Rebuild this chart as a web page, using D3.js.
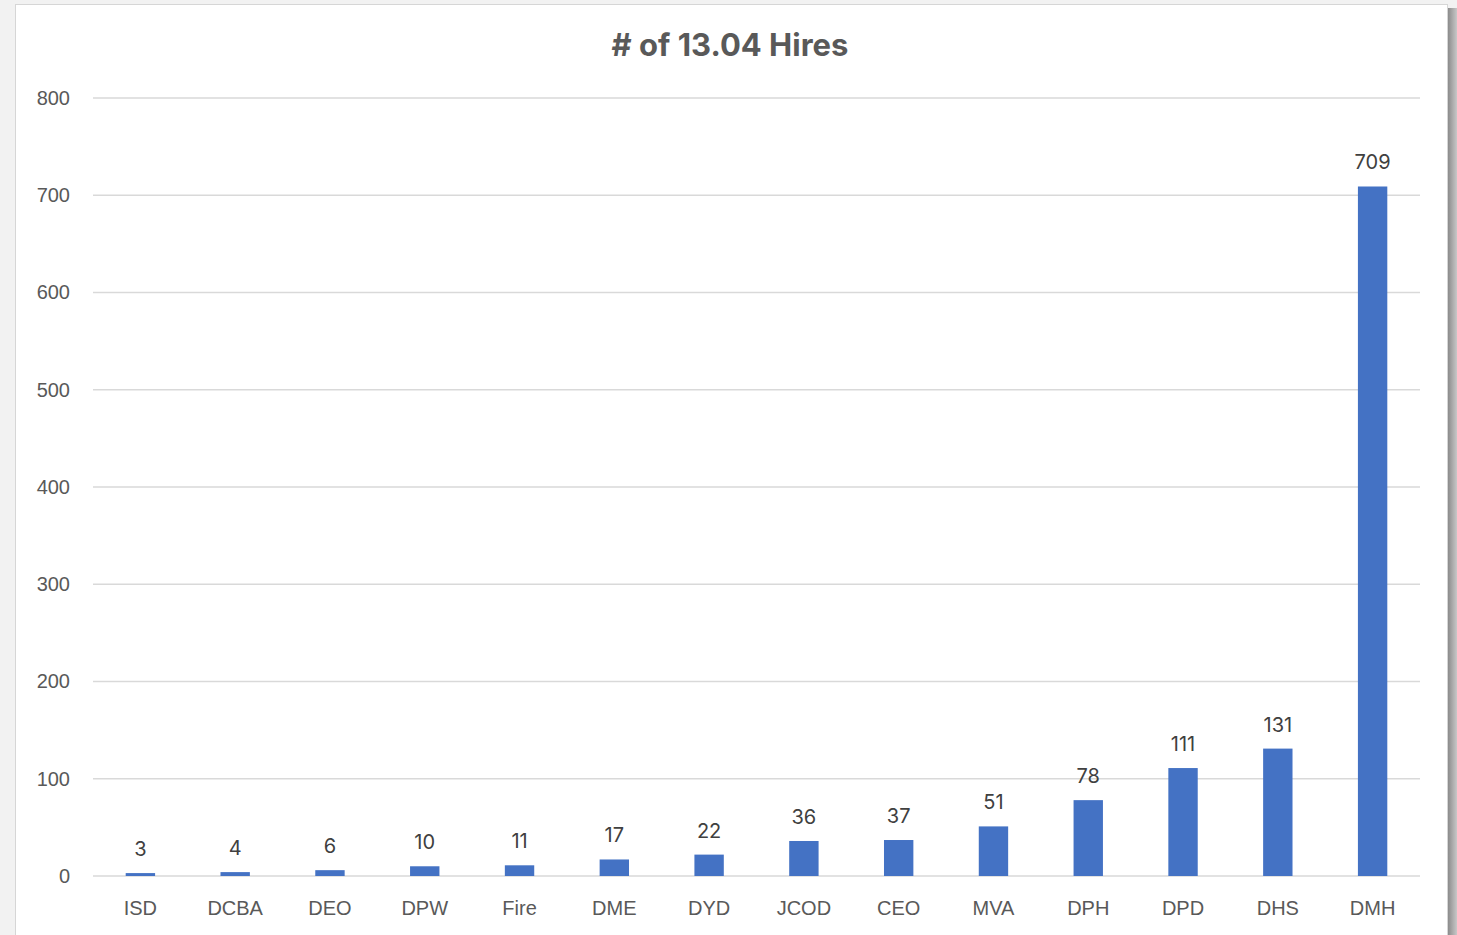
<!DOCTYPE html>
<html>
<head>
<meta charset="utf-8">
<script src="https://cdn.jsdelivr.net/npm/d3@7"></script>
<style>
  html, body { margin: 0; padding: 0; background: #f2f2f2; overflow: hidden; }
  svg { display: block; font-family: Inter, "Open Sans", sans-serif; }
</style>
</head>
<body>
<div id="chart"></div>
<script>
  "use strict";

  /* <!-- Chart Data --> */
  var departments = ["ISD", "DCBA", "DEO", "DPW", "Fire", "DME", "DYD", "JCOD", "CEO", "MVA", "DPH", "DPD", "DHS", "DMH"];
  var hires = [3, 4, 6, 10, 11, 17, 22, 36, 37, 51, 78, 111, 131, 709];
  var yTicks = [0, 100, 200, 300, 400, 500, 600, 700, 800];
  var title = "# of 13.04 Hires";

  var W = 1457, H = 935;
  var margin = { top: 98, left: 93, right: 1457 - 1420, bottom: 935 - 876 };

  var svg = d3.select("#chart").append("svg").attr("width", W).attr("height", H);

  /* <!-- Card and shadow --> */
  var defs = svg.append("defs");
  var grad = defs.append("linearGradient").attr("id", "shade").attr("x1", 0).attr("x2", 1);
  grad.append("stop").attr("offset", "0%").attr("stop-color", "#8c8c8c");
  grad.append("stop").attr("offset", "100%").attr("stop-color", "#c8c8c8");

  svg.append("rect").attr("x", 0).attr("y", 0).attr("width", W).attr("height", H).attr("fill", "#f2f2f2");
  svg.append("rect").attr("x", 1448).attr("y", 8).attr("width", 9).attr("height", H).attr("fill", "url(#shade)");
  svg.append("rect").attr("x", 15.5).attr("y", 4.5).attr("width", 1432).attr("height", H + 10)
    .attr("fill", "#fff").attr("stroke", "#d6d6d6");

  /* <!-- Scales --> */
  var x = d3.scaleBand().domain(departments)
    .range([margin.left, W - margin.right]).paddingInner(0.69).paddingOuter(0.345);
  var y = d3.scaleLinear().domain([0, 800]).range([H - margin.bottom, margin.top]);

  /* <!-- Gridlines --> */
  svg.append("g")
    .selectAll("line").data(yTicks).enter().append("line")
    .attr("x1", margin.left).attr("x2", W - margin.right)
    .attr("y1", d => y(d)).attr("y2", d => y(d))
    .attr("stroke", "#d9d9d9").attr("stroke-width", 1.5);

  /* <!-- Y axis --> */
  var yAxis = svg.append("g").attr("transform", `translate(${margin.left - 23},0)`)
    .call(d3.axisLeft(y).tickValues(yTicks).tickSize(0).tickPadding(0));
  yAxis.select(".domain").remove();
  yAxis.selectAll("text").attr("fill", "#595959").style("font-size", "20px");

  /* <!-- X axis --> */
  var xAxis = svg.append("g").attr("transform", `translate(0,${H - margin.bottom + 25})`)
    .call(d3.axisBottom(x).tickSize(0).tickPadding(0));
  xAxis.select(".domain").remove();
  xAxis.selectAll("text").attr("fill", "#595959").style("font-size", "20px");

  /* <!-- Bars --> */
  var data = departments.map((d, i) => ({ key: d, value: hires[i] }));
  svg.append("g").selectAll("rect").data(data).enter().append("rect")
    .attr("x", d => x(d.key)).attr("width", x.bandwidth())
    .attr("y", d => y(d.value)).attr("height", d => y(0) - y(d.value))
    .attr("fill", "#4472c4");

  /* <!-- Value labels --> */
  svg.append("g").selectAll("text").data(data).enter().append("text")
    .attr("x", d => x(d.key) + x.bandwidth() / 2)
    .attr("y", d => y(d.value) - 17)
    .attr("text-anchor", "middle")
    .attr("fill", "#404040").style("font-size", "20px")
    .text(d => d.value);

  /* <!-- Title --> */
  svg.append("text").attr("x", 730).attr("y", 56)
    .attr("text-anchor", "middle").attr("fill", "#595959")
    .style("font-size", "31px").style("font-weight", "bold")
    .text(title);
</script>
</body>
</html>
